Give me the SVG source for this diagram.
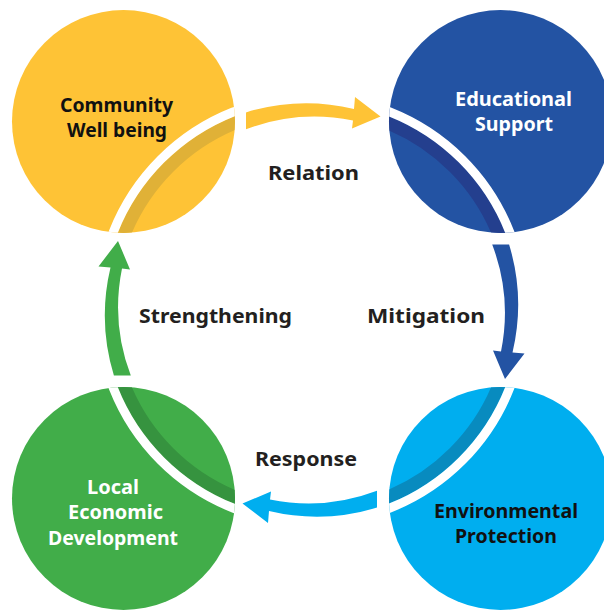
<svg xmlns="http://www.w3.org/2000/svg" xmlns:xlink="http://www.w3.org/1999/xlink" width="604" height="610" viewBox="0 0 604 610">
  <style>
    text { font-family: "Noto Sans", "Open Sans", "Liberation Sans", sans-serif; font-weight: 700; text-anchor: middle; }
    .node { font-size: 19px; }
    .lbl { font-size: 19.5px; fill: #231F20; }
    .dark { fill: #111111; }
    .light { fill: #FFFFFF; }
    .band { fill: none; stroke-width: 13; }
    .gap { fill: none; stroke: #FFFFFF; stroke-width: 9; }
  </style>
  <defs>
    <path id="arrow" d="M 246 112.4 A 206.5 206.5 0 0 1 354 109 L 355 97 L 380.5 116.5 L 352 128.5 L 353 120.5 A 193 193 0 0 0 246 129.3 Z"/>
    <clipPath id="cY"><circle cx="123.5" cy="121.5" r="111.5"/></clipPath>
    <clipPath id="cB"><circle cx="500.5" cy="121.5" r="111.5"/></clipPath>
    <clipPath id="cL"><circle cx="500.5" cy="498.5" r="111.5"/></clipPath>
    <clipPath id="cG"><circle cx="123.5" cy="498.5" r="111.5"/></clipPath>
  </defs>
  <rect width="604" height="610" fill="#FFFFFF"/>

  <g id="connectors">
    <use xlink:href="#arrow" fill="#FEC336"/>
    <use xlink:href="#arrow" fill="#2353A3" transform="rotate(90 311.5 310)"/>
    <use xlink:href="#arrow" fill="#00AEEF" transform="rotate(180 311.5 310)"/>
    <use xlink:href="#arrow" fill="#41AD49" transform="rotate(270 311.5 310)"/>
    <text class="lbl" x="313.5" y="180" textLength="91" lengthAdjust="spacingAndGlyphs">Relation</text>
    <text class="lbl" x="426" y="323" textLength="118" lengthAdjust="spacingAndGlyphs">Mitigation</text>
    <text class="lbl" x="306" y="466" textLength="102" lengthAdjust="spacingAndGlyphs">Response</text>
    <text class="lbl" x="215.5" y="323" textLength="153" lengthAdjust="spacingAndGlyphs">Strengthening</text>
  </g>

  <g id="community">
    <circle cx="123.5" cy="121.5" r="111.5" fill="#FEC336"/>
    <g clip-path="url(#cY)">
      <circle class="band" cx="311.5" cy="310" r="202" stroke="#E0B137"/>
      <circle class="gap" cx="311.5" cy="310" r="213"/>
    </g>
    <text class="node dark" x="116.5" y="112" textLength="113" lengthAdjust="spacingAndGlyphs">Community</text>
    <text class="node dark" x="117" y="137" textLength="100" lengthAdjust="spacingAndGlyphs">Well being</text>
  </g>

  <g id="educational">
    <circle cx="500.5" cy="121.5" r="111.5" fill="#2353A3"/>
    <g clip-path="url(#cB)">
      <circle class="band" cx="311.5" cy="310" r="202" stroke="#243F8E"/>
      <circle class="gap" cx="311.5" cy="310" r="213"/>
    </g>
    <text class="node light" x="513.5" y="105.5" textLength="117" lengthAdjust="spacingAndGlyphs">Educational</text>
    <text class="node light" x="514" y="130.5" textLength="78" lengthAdjust="spacingAndGlyphs">Support</text>
  </g>

  <g id="environmental">
    <circle cx="500.5" cy="498.5" r="111.5" fill="#00AEEF"/>
    <g clip-path="url(#cL)">
      <circle class="band" cx="311.5" cy="310" r="202" stroke="#088BBF"/>
      <circle class="gap" cx="311.5" cy="310" r="213"/>
    </g>
    <text class="node dark" x="506" y="518" textLength="144" lengthAdjust="spacingAndGlyphs">Environmental</text>
    <text class="node dark" x="506" y="543" textLength="102" lengthAdjust="spacingAndGlyphs">Protection</text>
  </g>

  <g id="local">
    <circle cx="123.5" cy="498.5" r="111.5" fill="#41AD49"/>
    <g clip-path="url(#cG)">
      <circle class="band" cx="311.5" cy="310" r="202" stroke="#36933F"/>
      <circle class="gap" cx="311.5" cy="310" r="213"/>
    </g>
    <text class="node light" x="113" y="494" textLength="52" lengthAdjust="spacingAndGlyphs">Local</text>
    <text class="node light" x="115.5" y="519" textLength="95" lengthAdjust="spacingAndGlyphs">Economic</text>
    <text class="node light" x="113" y="545" textLength="130" lengthAdjust="spacingAndGlyphs">Development</text>
  </g>
</svg>
